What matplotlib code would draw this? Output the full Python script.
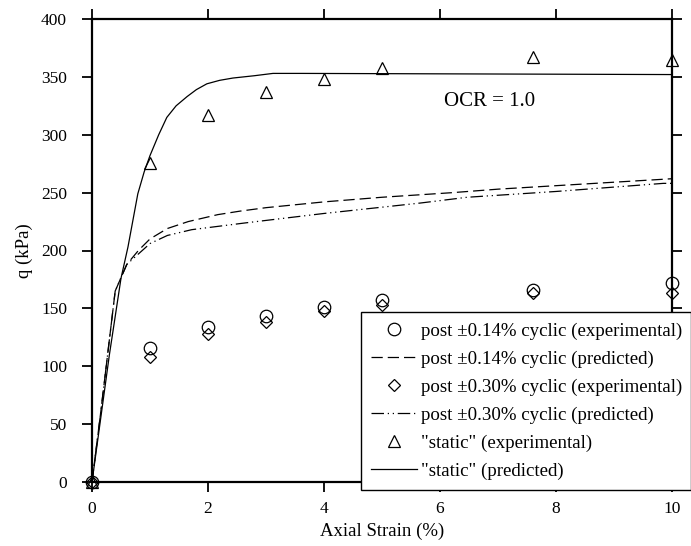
import numpy as np
import matplotlib
matplotlib.use("Agg")
import matplotlib.pyplot as plt
from matplotlib.lines import Line2D

# experimental points
strain_exp = [0, 1, 2, 3, 4, 5, 7.6, 10]
q_014_exp = [0, 116, 134, 143, 151, 157, 166, 172]
q_030_exp = [0, 108, 128, 138, 148, 153, 163, 163]
q_static_exp = [0, 276, 317, 337, 348, 358, 367, 365]

# predicted curves
strain_014 = [0, 0.15, 0.4, 0.6, 0.8, 1.0, 1.3, 1.66, 2.17, 2.55, 3, 4, 5, 6.22, 7, 8, 9, 10]
q_014_pred = [0, 60, 165, 188, 200, 210, 219, 225, 231, 234, 237, 242, 246, 250, 253, 256, 259, 262]
strain_030 = [0, 0.15, 0.4, 0.6, 0.8, 1.0, 1.3, 1.72, 2.67, 4, 5.66, 6.47, 8, 9.85, 10]
q_030_pred = [0, 60, 165, 188, 197, 206, 213, 218, 224, 232, 241, 246, 251, 258, 258]
strain_static = [0, 0.3, 0.5, 0.62, 0.79, 0.9, 1.0, 1.15, 1.29, 1.45, 1.64, 1.8, 1.98,
                 2.2, 2.43, 2.8, 3.12, 3.6, 10]
q_static_pred = [0, 110, 176, 203, 249, 268, 282, 300, 315, 325, 333, 339, 344,
                 347, 349, 351, 353, 353, 352]

plt.rcParams["font.family"] = ["Liberation Serif", "DejaVu Serif"]

fig = plt.figure(figsize=(6.91, 5.46), dpi=100)
ax = fig.add_axes([92 / 691, 64 / 546, 580 / 691, 463 / 546])

lw = 0.9
ax.plot(strain_014, q_014_pred, color="k", lw=lw, dashes=(9, 4))
ax.plot(strain_030, q_030_pred, color="k", lw=lw, dashes=(10, 3, 1, 3, 1, 3))
ax.plot(strain_static, q_static_pred, color="k", lw=lw)

mk = dict(ls="none", mfc="none", mec="k", mew=0.9, clip_on=False, zorder=4)
ax.plot(strain_exp, q_014_exp, marker="o", ms=9, **mk)
ax.plot(strain_exp, q_030_exp, marker="D", ms=6, **mk)
ax.plot(strain_exp, q_static_exp, marker="^", ms=9, **mk)

ax.set_xlim(0, 10)
ax.set_ylim(0, 400)
ax.set_xticks([0, 2, 4, 6, 8, 10])
ax.set_yticks(range(0, 401, 50))
ax.tick_params(direction="out", length=7, width=1.3, labelsize=12.5,
               top=True, right=True)
ax.tick_params(axis="y", pad=11)
ax.tick_params(axis="x", pad=7)
for s in ax.spines.values():
    s.set_linewidth(1.6)
ax.set_xlabel("Axial Strain (%)", fontsize=13.5, labelpad=4)
ax.set_ylabel("q (kPa)", fontsize=13.5, labelpad=6)
ax.text(6.86, 329, "OCR = 1.0", fontsize=15, ha="center", va="center")

handles = [
    Line2D([], [], ls="none", marker="o", ms=9, mfc="none", mec="k", mew=0.9),
    Line2D([], [], color="k", lw=lw, dashes=(9, 4)),
    Line2D([], [], ls="none", marker="D", ms=6, mfc="none", mec="k", mew=0.9),
    Line2D([], [], color="k", lw=lw, dashes=(10, 3, 1, 3, 1, 3)),
    Line2D([], [], ls="none", marker="^", ms=9, mfc="none", mec="k", mew=0.9),
    Line2D([], [], color="k", lw=lw),
]
labels = [
    "post \u00b10.14% cyclic (experimental)",
    "post \u00b10.14% cyclic (predicted)",
    "post \u00b10.30% cyclic (experimental)",
    "post \u00b10.30% cyclic (predicted)",
    "\"static\" (experimental)",
    "\"static\" (predicted)",
]
leg = ax.legend(handles, labels, loc="upper left",
                bbox_to_anchor=(361 / 691, 1 - 312 / 546, 330 / 691, 0),
                bbox_transform=fig.transFigure, mode="expand", borderaxespad=0,
                fontsize=13.6, frameon=True, fancybox=False, edgecolor="k",
                framealpha=1, handlelength=2.4, handletextpad=0.25,
                labelspacing=0.57, borderpad=0.55)
leg.get_frame().set_linewidth(1.0)
leg.set_zorder(10)

fig.savefig("out.png", dpi=100)
